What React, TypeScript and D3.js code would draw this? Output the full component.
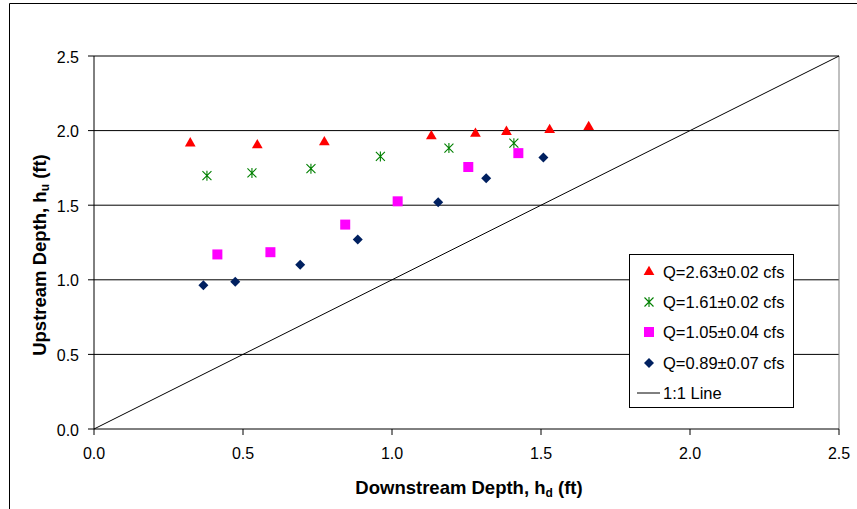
import React from "react";
import * as d3 from "d3";

const xTicks = [0, 0.5, 1.0, 1.5, 2.0, 2.5];
const yTicks = [0, 0.5, 1.0, 1.5, 2.0, 2.5];

const q263X = [0.323, 0.548, 0.773, 1.132, 1.28, 1.384, 1.529, 1.66];
const q263Y = [1.915, 1.902, 1.922, 1.962, 1.98, 1.992, 2.005, 2.025];

const q161X = [0.379, 0.53, 0.728, 0.961, 1.191, 1.409];
const q161Y = [1.698, 1.716, 1.745, 1.827, 1.883, 1.916];

const q105X = [0.414, 0.592, 0.843, 1.019, 1.256, 1.424];
const q105Y = [1.17, 1.185, 1.37, 1.526, 1.756, 1.849];

const q089X = [0.367, 0.474, 0.692, 0.885, 1.155, 1.316, 1.508];
const q089Y = [0.963, 0.987, 1.101, 1.27, 1.519, 1.68, 1.82];

const seriesNames = [
  "Q=2.63\u00b10.02 cfs",
  "Q=1.61\u00b10.02 cfs",
  "Q=1.05\u00b10.04 cfs",
  "Q=0.89\u00b10.07 cfs",
  "1:1 Line",
];

const W = 857;
const H = 509;
const m = { left: 94, right: 839, top: 56, bottom: 429 };
const FONT = "'Liberation Sans', Arial, sans-serif";

const x = d3.scaleLinear().domain([0, 2.5]).range([m.left, m.right]);
const y = d3.scaleLinear().domain([0, 2.5]).range([m.bottom, m.top]);

function Marker({ kind, cx, cy }: { kind: string; cx: number; cy: number }) {
  if (kind === "tri") {
    const p = d3.symbol().type(d3.symbolTriangle).size(50)();
    return <path d={p || ""} transform={`translate(${cx},${cy})`} fill="#ff0000" />;
  }
  if (kind === "sq") {
    return <rect x={cx - 5} y={cy - 5} width={10} height={10} fill="#ff00ff" />;
  }
  if (kind === "dia") {
    const r = 5;
    return (
      <path
        d={`M${cx},${cy - r}L${cx + r},${cy}L${cx},${cy + r}L${cx - r},${cy}Z`}
        fill="#002060"
      />
    );
  }
  const r = 4.5;
  return (
    <path
      d={`M${cx - r},${cy - r}L${cx + r},${cy + r}M${cx - r},${cy + r}L${cx + r},${cy - r}M${cx},${cy - r - 0.5}L${cx},${cy + r + 0.5}`}
      stroke="#008000"
      strokeWidth={1.1}
      fill="none"
    />
  );
}

const series = [
  { xs: q263X, ys: q263Y, kind: "tri" },
  { xs: q161X, ys: q161Y, kind: "ast" },
  { xs: q105X, ys: q105Y, kind: "sq" },
  { xs: q089X, ys: q089Y, kind: "dia" },
];

export default function App() {
  const lx = 629, ly = 254, lw = 164, lh = 153;
  const rowY = [272, 302, 332, 363, 393];
  return (
    <svg
      width={W}
      height={H}
      style={{ position: "fixed", left: 0, top: 0, background: "#fff" }}
      fontFamily={FONT}
    >
      <rect x={0} y={0} width={W} height={H} fill="#fff" />
      <path d={`M9.5,${H}L9.5,3.5L${W},3.5`} stroke="#000" strokeWidth={1} fill="none" />

      {yTicks.filter((t) => t > 0).map((t) => (
        <line key={t} x1={m.left} x2={m.right} y1={y(t)} y2={y(t)} stroke="#000" strokeWidth={1} />
      ))}
      <line x1={m.right} x2={m.right} y1={m.top} y2={m.bottom} stroke="#808080" strokeWidth={1} />

      <line x1={x(0)} y1={y(0)} x2={x(2.5)} y2={y(2.5)} stroke="#000" strokeWidth={1} />

      <line x1={m.left} x2={m.left} y1={m.top} y2={m.bottom} stroke="#000" strokeWidth={1} />
      <line x1={m.left} x2={m.right} y1={m.bottom} y2={m.bottom} stroke="#000" strokeWidth={1} />
      {yTicks.map((t) => (
        <g key={"y" + t}>
          <line x1={m.left - 6} x2={m.left} y1={y(t)} y2={y(t)} stroke="#000" />
          <text x={79} y={y(t) + 1} dy="0.35em" textAnchor="end" fontSize={16}>
            {t.toFixed(1)}
          </text>
        </g>
      ))}
      {xTicks.map((t) => (
        <g key={"x" + t}>
          <line x1={x(t)} x2={x(t)} y1={m.bottom} y2={m.bottom + 6} stroke="#000" />
          <text x={x(t)} y={453.5} dy="0.35em" textAnchor="middle" fontSize={16}>
            {t.toFixed(1)}
          </text>
        </g>
      ))}

      {series.map((s, i) =>
        s.xs.map((v, j) => <Marker key={i + "-" + j} kind={s.kind} cx={x(v)} cy={y(s.ys[j])} />)
      )}

      <text x={469} y={488} dy="0.35em" textAnchor="middle" fontSize={18.5} fontWeight="bold">
        Downstream Depth, h<tspan fontSize={12} dy={3}>d</tspan>
        <tspan dy={-3}> (ft)</tspan>
      </text>
      <text
        transform={`translate(40,255) rotate(-90)`}
        dy="0.35em"
        textAnchor="middle"
        fontSize={18.5}
        fontWeight="bold"
      >
        Upstream Depth, h<tspan fontSize={12} dy={3}>u</tspan>
        <tspan dy={-3}> (ft)</tspan>
      </text>

      <rect x={lx + 0.5} y={ly + 0.5} width={lw} height={lh} fill="#fff" stroke="#000" strokeWidth={1} />
      {seriesNames.map((n, i) => (
        <g key={n}>
          {i < 4 ? (
            <Marker kind={series[i].kind} cx={649} cy={rowY[i]} />
          ) : (
            <line x1={637} x2={660} y1={rowY[i]} y2={rowY[i]} stroke="#000" />
          )}
          <text x={663} y={rowY[i]} dy="0.35em" fontSize={16.5}>
            {n}
          </text>
        </g>
      ))}
    </svg>
  );
}
